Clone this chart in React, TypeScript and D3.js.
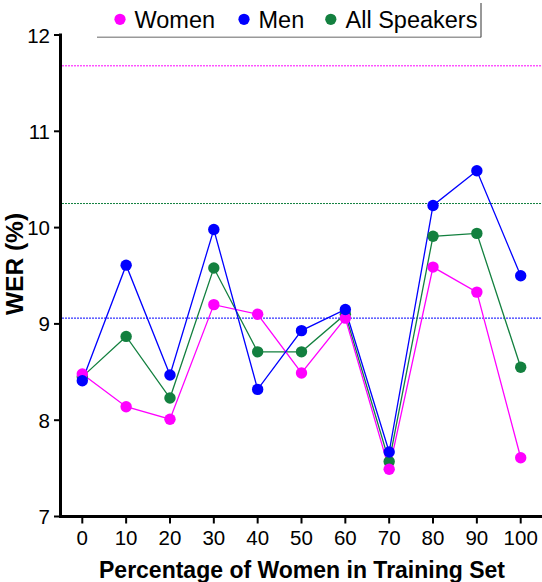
import React, { useMemo } from 'react';
import * as d3 from 'd3';

// Percentage of women in the training set
const trainingShare = [0, 10, 20, 30, 40, 50, 60, 70, 80, 90, 100];

// WER (%) per speaker group
const womenWer = [8.48, 8.14, 8.01, 9.2, 9.1, 8.49, 9.06, 7.49, 9.59, 9.33, 7.61];
const menWer = [8.41, 9.61, 8.47, 9.98, 8.32, 8.93, 9.15, 7.67, 10.23, 10.59, 9.5];
const allWer = [8.45, 8.87, 8.23, 9.58, 8.71, 8.71, 9.1, 7.57, 9.91, 9.94, 8.55];

// dotted reference levels
const womenRef = 11.68;
const allRef = 10.25;
const menRef = 9.06;

const yTicks = [7, 8, 9, 10, 11, 12];

const seriesNames = ['Women', 'Men', 'All Speakers'];
const seriesColors = ['#ff00ff', '#0000ff', '#13803f'];

const W = 542;
const H = 582;
const FONT = "'Liberation Sans', Arial, sans-serif";

export default function App() {
  const x = useMemo(() => d3.scaleLinear().domain([0, 100]).range([82.3, 520.7]), []);
  const y = useMemo(() => d3.scaleLinear().domain([7, 12]).range([516.5, 35]), []);

  const line = d3.line<number>()
    .x((_, i) => x(trainingShare[i]))
    .y(d => y(d));

  // drawn back to front: all speakers, women, men
  const series = [
    { name: seriesNames[2], values: allWer, color: seriesColors[2], ref: allRef },
    { name: seriesNames[0], values: womenWer, color: seriesColors[0], ref: womenRef },
    { name: seriesNames[1], values: menWer, color: seriesColors[1], ref: menRef },
  ];

  // legend layout: dot x, text x
  const legend = [
    { name: seriesNames[0], color: seriesColors[0], dx: 120, tx: 134.5 },
    { name: seriesNames[1], color: seriesColors[1], dx: 244, tx: 258.5 },
    { name: seriesNames[2], color: seriesColors[2], dx: 330.8, tx: 345.5 },
  ];

  return (
    <svg
      width={W}
      height={H}
      style={{ position: 'absolute', left: 0, top: 0, background: '#fff' }}
      fontFamily={FONT}
    >
      {/* reference levels */}
      {series.map(s => (
        <line
          key={'ref-' + s.name}
          x1={62}
          x2={W}
          y1={y(s.ref)}
          y2={y(s.ref)}
          stroke={s.color}
          strokeWidth={1}
          strokeDasharray="2,1"
        />
      ))}

      {/* series lines */}
      {series.map(s => (
        <path key={'line-' + s.name} d={line(s.values) || ''} fill="none" stroke={s.color} strokeWidth={1.3} />
      ))}

      {/* markers */}
      {series.map(s => (
        <g key={'pts-' + s.name}>
          {s.values.map((v, i) => (
            <circle key={i} cx={x(trainingShare[i])} cy={y(v)} r={5.7} fill={s.color} />
          ))}
        </g>
      ))}

      {/* y axis */}
      <line x1={60.5} x2={60.5} y1={33.5} y2={518} stroke="#000" strokeWidth={3} />
      {yTicks.map(t => (
        <g key={'yt-' + t}>
          <line x1={54} x2={60} y1={y(t)} y2={y(t)} stroke="#000" strokeWidth={2} />
          <text x={50} y={y(t) + 7.5} textAnchor="end" fontSize={20.5} fill="#000">{t}</text>
        </g>
      ))}

      {/* x axis */}
      <line x1={59} x2={W} y1={516.5} y2={516.5} stroke="#000" strokeWidth={3} />
      {trainingShare.map(t => (
        <g key={'xt-' + t}>
          <line x1={x(t)} x2={x(t)} y1={517} y2={523.5} stroke="#000" strokeWidth={2} />
          <text x={x(t)} y={545} textAnchor="middle" fontSize={20.5} fill="#000">{t}</text>
        </g>
      ))}

      {/* axis titles */}
      <text x={302} y={577.5} textAnchor="middle" fontSize={23} fontWeight="bold" fill="#000">
        Percentage of Women in Training Set
      </text>
      <text
        transform="translate(22.5,264) rotate(-90)"
        textAnchor="middle"
        fontSize={24.5}
        fontWeight="bold"
        fill="#000"
      >
        WER (%)
      </text>

      {/* legend */}
      <line x1={97} x2={481} y1={37.3} y2={37.3} stroke="#999" strokeWidth={1.5} />
      <line x1={481} x2={481} y1={3} y2={37.3} stroke="#333" strokeWidth={1} />
      {legend.map(l => (
        <g key={'lg-' + l.name}>
          <circle cx={l.dx} cy={19.3} r={5.6} fill={l.color} />
          <text x={l.tx} y={27.5} fontSize={23.5} fill="#000">{l.name}</text>
        </g>
      ))}
    </svg>
  );
}
